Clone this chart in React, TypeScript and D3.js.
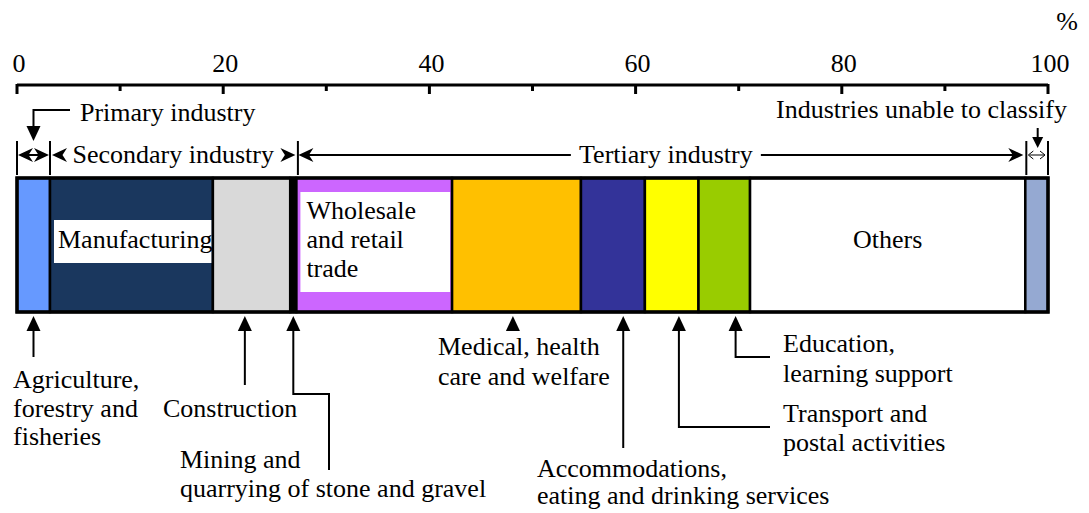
import React from "react";
import * as d3 from "d3";

// shares of employed persons by industry (%)
const industries = [
  "Agriculture, forestry and fisheries",
  "Manufacturing",
  "Construction",
  "Mining and quarrying of stone and gravel",
  "Wholesale and retail trade",
  "Medical, health care and welfare",
  "Accommodations, eating and drinking services",
  "Transport and postal activities",
  "Education, learning support",
  "Others",
  "Industries unable to classify",
];
const shares = [3.2, 15.8, 7.5, 0.6, 15.1, 12.5, 6.2, 5.2, 5.0, 26.7, 2.2];
const groups = ["primary", "secondary", "secondary", "secondary", "tertiary", "tertiary", "tertiary", "tertiary", "tertiary", "tertiary", "unable"];
const colors = ["#6699ff", "#1a375e", "#d9d9d9", "#000000", "#cc66ff", "#ffc000", "#333399", "#ffff00", "#99cc00", "#ffffff", "#95a9d2"];
const ticks = [0, 20, 40, 60, 80, 100];
const minorTicks = [10, 30, 50, 70, 90];

const W = 1089;
const H = 513;
const FONT = '"Liberation Serif"';
const FS = 26;
const barTop = 178;
const barBottom = 312;

const x = d3.scaleLinear().domain([0, 100]).range([17, 1048]);

const ends = d3.cumsum(shares);
const segs = industries.map((name, i) => ({
  name,
  group: groups[i],
  color: colors[i],
  start: i === 0 ? 0 : ends[i - 1],
  end: ends[i],
}));

function span(group) {
  const s = segs.filter((d) => d.group === group);
  return [s[0].start, s[s.length - 1].end];
}

// callouts below the bar: arrow position (%), path shape, text
const callouts = [
  { name: industries[0], at: 1.6, path: (px) => [[px, 357]], tx: 13, lines: ["Agriculture,", "forestry and", "fisheries"], y0: 388, lh: 28.5 },
  { name: industries[2], at: 22.1, path: (px) => [[px, 385]], tx: 163, lines: ["Construction"], y0: 417, lh: 29 },
  { name: industries[3], at: 26.8, path: (px) => [[px, 394], [329, 394], [329, 470]], tx: 180, lines: ["Mining and", "quarrying of stone and gravel"], y0: 468, lh: 29 },
  { name: industries[5], at: 48.1, path: null, tx: 438, lines: ["Medical, health", "care and welfare"], y0: 355, lh: 30 },
  { name: industries[6], at: 58.8, path: (px) => [[px, 448]], tx: 537, lines: ["Accommodations,", "eating and drinking services"], y0: 477, lh: 27 },
  { name: industries[7], at: 64.2, path: (px) => [[px, 427], [770, 427]], tx: 783, lines: ["Transport and", "postal activities"], y0: 422, lh: 29 },
  { name: industries[8], at: 69.7, path: (px) => [[px, 357], [770, 357]], tx: 783, lines: ["Education,", "learning support"], y0: 352, lh: 30 },
];

const line = d3.line();

function upHead(px, py, w = 14, h = 15) {
  return `M${px},${py}L${px - w / 2},${py + h}L${px + w / 2},${py + h}Z`;
}
function downHead(px, py, w = 14, h = 15) {
  return `M${px},${py}L${px - w / 2},${py - h}L${px + w / 2},${py - h}Z`;
}
// barbed horizontal arrowhead, dir = -1 points left, 1 points right
function sideHead(px, py, dir, len = 15, half = 7) {
  const b = px - dir * len;
  const n = px - dir * len * 0.7;
  return `M${px},${py}L${b},${py - half}L${n},${py}L${b},${py + half}Z`;
}

function T({ children, ...rest }) {
  return (
    <text fontSize={FS} fill="#000" style={{ fontFamily: FONT }} {...rest}>
      {children}
    </text>
  );
}

function Label({ lines, tx, y0, lh }) {
  return (
    <T x={tx} y={y0}>
      {lines.map((l, i) => (
        <tspan key={i} x={tx} y={y0 + i * lh}>
          {l}
        </tspan>
      ))}
    </T>
  );
}

export default function App() {
  const [p0, p1] = span("primary").map(x);
  const [s0, s1] = span("secondary").map(x);
  const [t0, t1] = span("tertiary").map(x);
  const [u0, u1] = span("unable").map(x);
  const by = 155;
  const tMid = (t0 + t1) / 2 + 5;

  const manu = segs[1];
  const whole = segs[4];
  const others = segs[9];

  return (
    <svg width={W} height={H} style={{ position: "absolute", left: 0, top: 0, background: "#fff" }}>
      {/* axis */}
      <g stroke="#000">
        <line x1={x(0)} x2={x(100)} y1={85} y2={85} strokeWidth={3} />
        {ticks.map((t) => (
          <line key={t} x1={x(t)} x2={x(t)} y1={84} y2={94} strokeWidth={3} />
        ))}
        {minorTicks.map((t) => (
          <line key={t} x1={x(t)} x2={x(t)} y1={84} y2={91} strokeWidth={3} />
        ))}
      </g>
      {ticks.map((t) => (
        <T key={t} x={x(t) + 2} y={72} textAnchor="middle">
          {t}
        </T>
      ))}
      <T x={1067} y={30} textAnchor="middle">
        %
      </T>

      {/* group brackets */}
      <g stroke="#000" strokeWidth={2}>
        {[p0, s0, t0 + 1.5, u0 + 1, u1].map((v, i) => (
          <line key={i} x1={v} x2={v} y1={141} y2={175} />
        ))}
        <line x1={p0 + 4} x2={p1 - 4} y1={by} y2={by} />
        <line x1={t0 + 12} x2={tMid - 95} y1={by} y2={by} />
        <line x1={tMid + 95} x2={t1 - 12} y1={by} y2={by} />
        <line x1={u0 + 4} x2={u1 - 4} y1={by} y2={by} strokeWidth={1} />
        <polyline points={`${u0 + 8},${by - 4} ${u0 + 3},${by} ${u0 + 8},${by + 4}`} fill="none" strokeWidth={1} />
        <polyline points={`${u1 - 8},${by - 4} ${u1 - 3},${by} ${u1 - 8},${by + 4}`} fill="none" strokeWidth={1} />
        {/* primary callout */}
        <polyline points={`70,110 ${x(1.6)},110 ${x(1.6)},126`} fill="none" />
        {/* unable callout */}
        <line x1={x(99)} x2={x(99)} y1={128} y2={138} />
      </g>
      <g fill="#000">
        <path d={sideHead(p0 + 1, by, -1)} />
        <path d={sideHead(p1 - 1, by, 1)} />
        <path d={sideHead(s0 + 2, by, -1)} />
        <path d={sideHead(s1 - 1, by, 1)} />
        <path d={sideHead(t0 + 2, by, -1)} />
        <path d={sideHead(t1 - 2, by, 1)} />
        <path d={downHead(x(1.6), 141)} />
        <path d={downHead(x(99), 148, 11, 11)} />
      </g>
      <T x={80} y={121}>
        Primary industry
      </T>
      <T x={1067} y={118} textAnchor="end">
        Industries unable to classify
      </T>
      <T x={(s0 + s1) / 2} y={163} textAnchor="middle">
        Secondary industry
      </T>
      <T x={tMid} y={163} textAnchor="middle">
        Tertiary industry
      </T>

      {/* the bar */}
      <g>
        {segs.map((d) => (
          <rect
            key={d.name}
            x={x(d.start)}
            y={barTop}
            width={x(d.end) - x(d.start)}
            height={barBottom - barTop}
            fill={d.color}
            stroke="#000"
            strokeWidth={2.5}
          />
        ))}
        <rect
          x={x(0)}
          y={barTop}
          width={x(100) - x(0)}
          height={barBottom - barTop}
          fill="none"
          stroke="#000"
          strokeWidth={3.5}
        />
      </g>

      {/* labels inside the bar */}
      <rect x={54} y={220} width={x(manu.end) - 1.5 - 54} height={43} fill="#fff" />
      <T x={58} y={248}>
        Manufacturing
      </T>
      <rect x={x(whole.start) + 4} y={192} width={x(whole.end) - x(whole.start) - 6} height={100} fill="#fff" />
      <Label lines={["Wholesale", "and retail", "trade"]} tx={x(whole.start) + 10} y0={219} lh={29} />
      <T x={(x(others.start) + x(others.end)) / 2} y={248} textAnchor="middle">
        Others
      </T>

      {/* callouts below */}
      {callouts.map((c) => {
        const px = x(c.at);
        return (
          <g key={c.name}>
            <path d={upHead(px, barBottom + 4)} fill="#000" />
            {c.path && (
              <path
                d={line([[px, barBottom + 15], ...c.path(px)])}
                fill="none"
                stroke="#000"
                strokeWidth={2}
              />
            )}
            <Label lines={c.lines} tx={c.tx} y0={c.y0} lh={c.lh} />
          </g>
        );
      })}
    </svg>
  );
}
